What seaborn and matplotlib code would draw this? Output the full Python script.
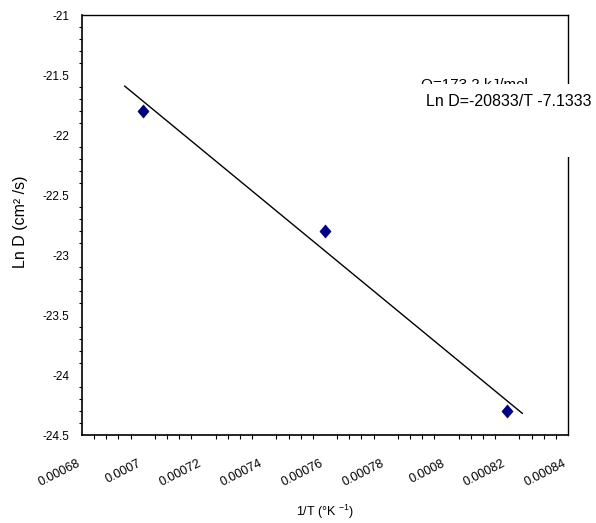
import numpy as np
import pandas as pd
import matplotlib
matplotlib.use("Agg")
import matplotlib.pyplot as plt
import matplotlib.transforms as mtransforms
from matplotlib.path import Path
from matplotlib.markers import MarkerStyle
import seaborn as sns
from matplotlib.ticker import MultipleLocator
from matplotlib.patches import Rectangle

# Measured diffusion data
inv_T = [0.0007, 0.00076, 0.00082]
ln_D = [-21.8, -22.8, -24.3]

# Arrhenius fit: Ln D = slope / T + intercept
slope = -20833
intercept = -7.1333
fit_range = [0.000694, 0.000825]
activation_label = "Q=173.2 kJ/mol"
equation_label = "Ln D=-20833/T -7.1333"

x_ticks = [0.00068, 0.0007, 0.00072, 0.00074, 0.00076, 0.00078, 0.0008, 0.00082, 0.00084]
x_tick_labels = ["0.00068", "0.0007", "0.00072", "0.00074", "0.00076",
                 "0.00078", "0.0008", "0.00082", "0.00084"]
y_ticks = [-24.5, -24, -23.5, -23, -22.5, -22, -21.5, -21]
y_tick_labels = ["-24.5", "-24", "-23.5", "-23", "-22.5", "-22", "-21.5", "-21"]

sns.set_theme(style="white")
plt.rcParams["font.family"] = ["Liberation Sans", "DejaVu Sans"]
plt.rcParams["mathtext.fontset"] = "custom"
plt.rcParams["mathtext.rm"] = "Liberation Sans"
plt.rcParams["text.color"] = "black"
plt.rcParams["axes.labelcolor"] = "black"

W, H = 596, 523
fig = plt.figure(figsize=(W / 100, H / 100), dpi=100)
ax = fig.add_axes([82 / W, 88 / H, (568 - 82) / W, (435 - 15) / H])

fit_df = pd.DataFrame({"x": fit_range,
                       "y": [slope * v + intercept for v in fit_range]})
sns.lineplot(data=fit_df, x="x", y="y", ax=ax, color="black", linewidth=1.0)

# slightly tall diamond marker
diamond = MarkerStyle(Path([(0, 1), (0.85, 0), (0, -1), (-0.85, 0), (0, 1)],
                           [Path.MOVETO, Path.LINETO, Path.LINETO,
                            Path.LINETO, Path.CLOSEPOLY]))
pts = pd.DataFrame({"x": inv_T, "y": ln_D})
sns.scatterplot(data=pts, x="x", y="y", ax=ax, marker=diamond, s=90,
                color="#000080", edgecolor="#000080", linewidth=0.4, zorder=3)

ax.set_xlim(0.00068, 0.00084)
ax.set_ylim(-24.5, -21)
ax.set_xticks(x_ticks)
ax.set_xticklabels(x_tick_labels, rotation=27, ha="right", va="top",
                   fontsize=9)
ax.set_yticks(y_ticks)
ax.set_yticklabels(y_tick_labels, fontsize=8.5)
ax.xaxis.set_minor_locator(MultipleLocator(0.000004))
ax.yaxis.set_minor_locator(MultipleLocator(0.1))

# shift rotated x labels a little to the left of their ticks
shift = mtransforms.ScaledTranslation(-5 / 100, 0, fig.dpi_scale_trans)
for lbl in ax.get_xticklabels():
    lbl.set_transform(lbl.get_transform() + shift)

ax.tick_params(axis="x", which="major", direction="inout", length=8,
               width=1.0, colors="black", pad=12)
ax.tick_params(axis="x", which="minor", direction="out", length=3,
               width=0.8, colors="black", bottom=True)
ax.tick_params(axis="y", which="major", direction="inout", length=6,
               width=1.0, colors="black", pad=6)
ax.tick_params(axis="y", which="minor", direction="out", length=2.5,
               width=0.8, colors="black", left=True)

for side in ["left", "bottom", "top", "right"]:
    ax.spines[side].set_visible(True)
    ax.spines[side].set_color("black")
ax.spines["left"].set_linewidth(1.2)
ax.spines["bottom"].set_linewidth(1.2)
ax.spines["top"].set_linewidth(1.0)
ax.spines["right"].set_linewidth(1.0)

ax.set_xlabel("1/T (°K $^{-1}$)", fontsize=9)
ax.xaxis.set_label_coords(0.5, (435 - 503) / 420)
ax.set_ylabel("Ln D (cm² /s)", fontsize=11.5)
ax.yaxis.set_label_coords((28 - 82) / 486, (435 - 222) / 420)

# Annotation block over the upper-right corner
fig.text(421 / W, 1 - 85 / H, activation_label, fontsize=11,
         ha="left", va="center", zorder=5)
fig.patches.append(Rectangle((415 / W, 1 - 157 / H), 181 / W, 73 / H,
                             transform=fig.transFigure, facecolor="white",
                             edgecolor="none", zorder=6))
fig.text(426 / W, 1 - 102 / H, equation_label, fontsize=11.5,
         ha="left", va="center", zorder=7)

fig.savefig("out.png", dpi=100, facecolor="white")
